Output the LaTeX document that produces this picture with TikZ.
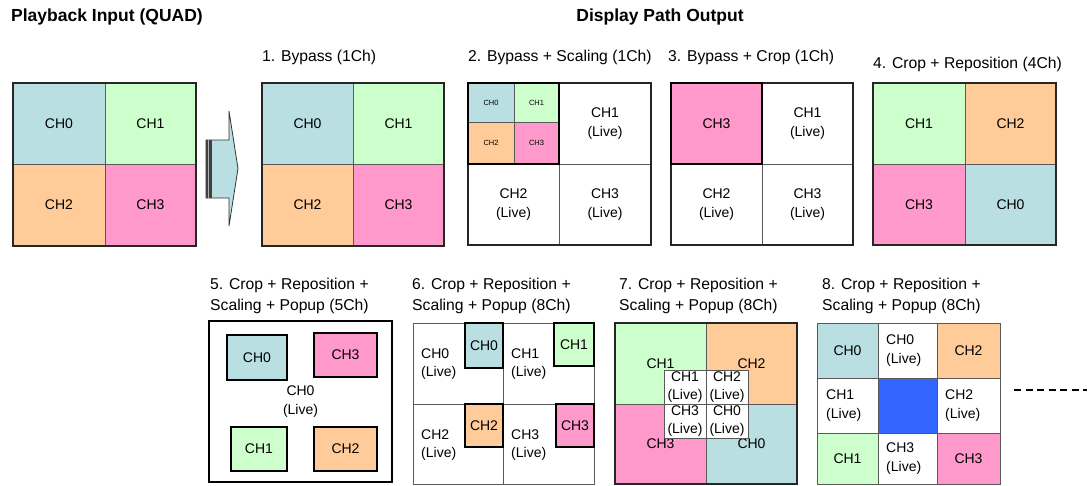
\documentclass[tikz,border=0pt]{standalone}
\usepackage{fontspec}
\setmainfont{Liberation Sans}
\definecolor{chzero}{HTML}{B9DFE3}
\definecolor{chone}{HTML}{CCFFCC}
\definecolor{chtwo}{HTML}{FFCC99}
\definecolor{chthree}{HTML}{FF99CC}
\definecolor{liveblue}{HTML}{3366FF}

\begin{document}
\begin{tikzpicture}[x=1pt, y=-1pt]
% Styles:
\tikzset{cell/.style={draw=black!65, line width=0.8pt}}
\tikzset{frame/.style={draw=black!85, line width=1.1pt}}
\tikzset{popup/.style={draw=black, line width=1.4pt}}
\tikzset{chtext/.style={font=\fontsize{14}{18.5}\selectfont, align=center, inner sep=0pt}}
\tikzset{livetext/.style={chtext, align=left, anchor=west}}
\tikzset{smalltext/.style={font=\fontsize{7.5}{9}\selectfont, inner sep=0pt}}
\tikzset{title/.style={font=\fontsize{15.7}{21}\selectfont, anchor=west, inner sep=0pt, align=left}}
\tikzset{header/.style={font=\bfseries\fontsize{17.5}{20}\selectfont, inner sep=0pt}}

\useasboundingbox (0,0) rectangle (1087,485);

% Headers:
\node[header, anchor=west] (hin)  at (11,17)  {Playback Input (QUAD)};
\node[header]              (hout) at (660,17) {Display Path Output};

% Titles:
\node[title] (tone)   at (262,57) {1. Bypass (1Ch)};
\node[title] (ttwo)   at (468,57) {2. Bypass + Scaling (1Ch)};
\node[title] (tthree) at (668,57) {3. Bypass + Crop (1Ch)};
\node[title] (tfour)  at (873,64) {4. Crop + Reposition (4Ch)};
\node[title] (tfive)  at (210,295.5) {5. Crop + Reposition +\\Scaling + Popup (5Ch)};
\node[title] (tsix)   at (412,295.5) {6. Crop + Reposition +\\Scaling + Popup (8Ch)};
\node[title] (tseven) at (619,295.5) {7. Crop + Reposition +\\Scaling + Popup (8Ch)};
\node[title] (teight) at (822,295.5) {8. Crop + Reposition +\\Scaling + Popup (8Ch)};

% Playback input:
\draw[cell, fill=chzero]  (13,83)   rectangle node[chtext] (inzero)  {CH0} (105,164);
\draw[cell, fill=chone]   (105,83)  rectangle node[chtext] (inone)   {CH1} (196,164);
\draw[cell, fill=chtwo]   (13,164)  rectangle node[chtext] (intwo)   {CH2} (105,246);
\draw[cell, fill=chthree] (105,164) rectangle node[chtext] (inthree) {CH3} (196,246);
\draw[frame] (13,83) rectangle (196,246);

% Arrow:
\draw[black!80, line width=0.8pt, fill=chzero] (206,140) -- (229,140) -- (229,111) -- (238,168.5)
  -- (229,226) -- (229,198) -- (206,198) -- cycle;
\fill[black!75] (205.5,140) rectangle (211.5,198);
\draw[gray!60, line width=0.8pt] (208.5,140) -- (208.5,198);

% 1. Bypass:
\draw[cell, fill=chzero]  (262,83)  rectangle node[chtext] (bzero)  {CH0} (353,164);
\draw[cell, fill=chone]   (353,83)  rectangle node[chtext] (bone)   {CH1} (444,164);
\draw[cell, fill=chtwo]   (262,164) rectangle node[chtext] (btwo)   {CH2} (353,246);
\draw[cell, fill=chthree] (353,164) rectangle node[chtext] (bthree) {CH3} (444,246);
\draw[frame] (262,83) rectangle (444,246);

% 2. Bypass + Scaling:
\draw[cell] (559,83)  rectangle node[chtext] (sone)   {CH1\\(Live)} (651,164);
\draw[cell] (468,164) rectangle node[chtext] (stwo)   {CH2\\(Live)} (559,245);
\draw[cell] (559,164) rectangle node[chtext] (sthree) {CH3\\(Live)} (651,245);
\draw[cell, fill=chzero]  (468,83)    rectangle node[smalltext] (sszero)  {CH0} (514,122.5);
\draw[cell, fill=chone]   (514,83)    rectangle node[smalltext] (ssone)   {CH1} (559,122.5);
\draw[cell, fill=chtwo]   (468,122.5) rectangle node[smalltext] (sstwo)   {CH2} (514,164);
\draw[cell, fill=chthree] (514,122.5) rectangle node[smalltext] (ssthree) {CH3} (559,164);
\draw[frame] (468,83) rectangle (651,245);
\draw[popup] (468,83) rectangle (559,164);

% 3. Bypass + Crop:
\draw[cell] (762,83)  rectangle node[chtext] (cone)   {CH1\\(Live)} (853,164);
\draw[cell] (671,164) rectangle node[chtext] (ctwo)   {CH2\\(Live)} (762,245);
\draw[cell] (762,164) rectangle node[chtext] (cthree) {CH3\\(Live)} (853,245);
\draw[frame] (671,83) rectangle (853,245);
\draw[popup, fill=chthree] (671,83) rectangle node[chtext] (ccrop) {CH3} (762,164);

% 4. Crop + Reposition:
\draw[cell, fill=chone]   (873,83)  rectangle node[chtext] (rone)   {CH1} (965,164);
\draw[cell, fill=chtwo]   (965,83)  rectangle node[chtext] (rtwo)   {CH2} (1056,164);
\draw[cell, fill=chthree] (873,164) rectangle node[chtext] (rthree) {CH3} (965,245);
\draw[cell, fill=chzero]  (965,164) rectangle node[chtext] (rzero)  {CH0} (1056,245);
\draw[frame, line width=1.4pt] (873,83) rectangle (1056,245);

% 5. Popup (5Ch):
\draw[popup, line width=1.6pt] (209,321) rectangle node[chtext] (pflive) {CH0\\(Live)} (392,482);
\draw[popup, fill=chzero]  (227,335) rectangle node[chtext] (pfzero)  {CH0} (287,380);
\draw[popup, fill=chthree] (314,333) rectangle node[chtext] (pfthree) {CH3} (377,377);
\draw[popup, fill=chone]   (231,427) rectangle node[chtext] (pfone)   {CH1} (287,471);
\draw[popup, fill=chtwo]   (314,427) rectangle node[chtext] (pftwo)   {CH2} (377,471);

% 6. Popup (8Ch):
\draw[cell] (413,323) rectangle (503,404);
\draw[cell] (503,323) rectangle (594,404);
\draw[cell] (413,404) rectangle (503,484);
\draw[cell] (503,404) rectangle (594,484);
\node[livetext] (sxzero)  at (421,364) {CH0\\(Live)};
\node[livetext] (sxone)   at (511,364) {CH1\\(Live)};
\node[livetext] (sxtwo)   at (421,445) {CH2\\(Live)};
\node[livetext] (sxthree) at (511,445) {CH3\\(Live)};
\draw[popup, fill=chzero]  (465,323) rectangle node[chtext] (sxpzero)  {CH0} (503,368);
\draw[popup, fill=chone]   (554,323) rectangle node[chtext] (sxpone)   {CH1} (594,366);
\draw[popup, fill=chtwo]   (465,404) rectangle node[chtext] (sxptwo)   {CH2} (503,447);
\draw[popup, fill=chthree] (556,404) rectangle node[chtext] (sxpthree) {CH3} (594,447);

% 7. Popup (8Ch), centre grid:
\draw[cell, fill=chone]   (615,323) rectangle node[chtext] (svone)   {CH1} (706,404);
\draw[cell, fill=chtwo]   (706,323) rectangle node[chtext] (svtwo)   {CH2} (797,404);
\draw[cell, fill=chthree] (615,404) rectangle node[chtext] (svthree) {CH3} (706,484);
\draw[cell, fill=chzero]  (706,404) rectangle node[chtext] (svzero)  {CH0} (797,484);
\draw[frame] (615,323) rectangle (797,484);
\draw[cell, fill=white] (664,370) rectangle node[chtext] (svlone)   {CH1\\(Live)} (706,404);
\draw[cell, fill=white] (706,370) rectangle node[chtext] (svltwo)   {CH2\\(Live)} (748,404);
\draw[cell, fill=white] (664,404) rectangle node[chtext] (svlthree) {CH3\\(Live)} (706,438);
\draw[cell, fill=white] (706,404) rectangle node[chtext] (svlzero)  {CH0\\(Live)} (748,438);

% 8. Popup (8Ch), 3x3 grid:
\draw[cell, fill=chzero]   (817,323) rectangle node[chtext] (egzero)  {CH0} (878,378);
\draw[cell]                (878,323) rectangle (937,378);
\draw[cell, fill=chtwo]    (937,323) rectangle node[chtext] (egtwo)   {CH2} (1000,378);
\draw[cell]                (817,378) rectangle (878,433);
\draw[cell, fill=liveblue] (878,378) rectangle (937,433);
\draw[cell]                (937,378) rectangle (1000,433);
\draw[cell, fill=chone]    (817,433) rectangle node[chtext] (egone)   {CH1} (878,484);
\draw[cell]                (878,433) rectangle (937,484);
\draw[cell, fill=chthree]  (937,433) rectangle node[chtext] (egthree) {CH3} (1000,484);
\node[livetext] (eglzero)  at (886,350.5) {CH0\\(Live)};
\node[livetext] (eglone)   at (826,405.5) {CH1\\(Live)};
\node[livetext] (egltwo)   at (945,405.5) {CH2\\(Live)};
\node[livetext] (eglthree) at (886,458.5) {CH3\\(Live)};

% Continuation:
\coordinate (dashstart) at (1014,390);
\coordinate (dashend)   at (1087,390);
\draw[line width=1.3pt, dash pattern=on 7pt off 4.5pt] (dashstart) -- (dashend);
\end{tikzpicture}
\end{document}
